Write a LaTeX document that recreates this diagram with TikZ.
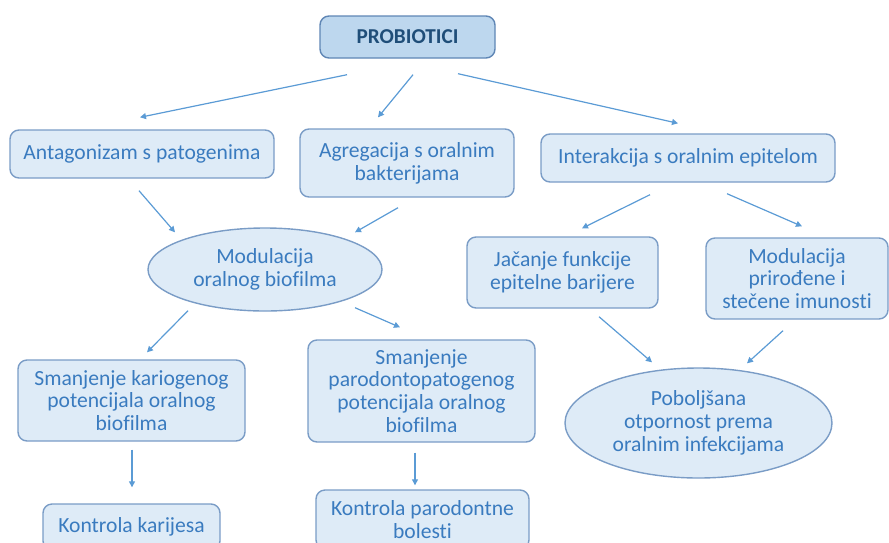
\documentclass[tikz,border=0pt]{standalone}
\usepackage{fontspec}
\setmainfont{Carlito}[Ligatures=NoCommon]
\usetikzlibrary{arrows.meta,shapes.geometric,calc}
\definecolor{boxfill}{HTML}{DEEBF7}
\definecolor{boxline}{HTML}{7A9CC6}
\definecolor{topfill}{HTML}{BDD7EE}
\definecolor{topline}{HTML}{5F86B5}
\definecolor{txtblue}{HTML}{3A7BBF}
\definecolor{txtnavy}{HTML}{1F4E79}
\definecolor{arrblue}{HTML}{5B9BD5}

\begin{document}
\begin{tikzpicture}[x=0.5pt,y=-0.5pt,
    txt/.style={text=txtblue,align=center,font=\fontsize{10.8}{11.4}\selectfont,inner sep=0pt},
    box/.style={txt,draw=boxline,fill=boxfill,line width=0.7pt,rounded corners=4.5pt},
    topbox/.style={box,draw=topline,fill=topfill,text=txtnavy,font=\fontsize{10.6}{11.4}\selectfont\bfseries},
    oval/.style={txt,ellipse,draw=boxline,fill=boxfill,line width=0.7pt},
    arr/.style={-{Triangle[length=3pt,width=3pt]},draw=arrblue,line width=0.6pt}]
        \useasboundingbox(0,0)rectangle(889,542);
        \node[topbox,minimum width=87.5pt,minimum height=21pt](prob)at(407.5,37){PROBIOTICI};
        \node[box,minimum width=132pt,minimum height=24pt](ant)at(142,154){Antagonizam s patogenima};
        \node[box,minimum width=107pt,minimum height=34pt](agr)at(407,163){Agregacija s oralnim\\bakterijama};
        \node[box,minimum width=147pt,minimum height=24pt](inter)at(688,158){Interakcija s oralnim epitelom};
        \node[box,minimum width=95.5pt,minimum height=35.5pt](jac)at(562.5,272.5){Jačanje funkcije\\epitelne barijere};
        \node[box,minimum width=91pt,minimum height=40.5pt](modim)at(797,278.5){Modulacija\\prirođene i\\stečene imunosti};
        \node[oval,minimum width=117pt,minimum height=41.5pt](modbio)at(265,269.5){Modulacija\\oralnog biofilma};
        \node[box,minimum width=113.5pt,minimum height=40.5pt](smkar)at(131.5,400.5){Smanjenje kariogenog\\potencijala oralnog\\biofilma};
        \node[box,minimum width=113.5pt,minimum height=51pt](smpar)at(421.5,391){Smanjenje\\parodontopatogenog\\potencijala oralnog\\biofilma};
        \node[box,minimum width=88.5pt,minimum height=23pt](konkar)at(131.5,527){Kontrola karijesa};
        \node[box,minimum width=106.5pt,minimum height=29.5pt](konpar)at(422.5,519.5){Kontrola parodontne\\bolesti};
        \node[oval,minimum width=133.5pt,minimum height=55pt](pob)at(698.5,423){Poboljšana\\otpornost prema\\oralnim infekcijama};
        \draw[arr]($(prob.south)+(-60.5,16)$)--($(ant.north)+(-2,-12)$);
        \draw[arr]($(prob.south)+(5.5,16)$)--($(agr.north)+(-29,-11)$);
        \draw[arr]($(prob.south)+(50.5,15)$)--($(inter.north)+(-10,-10)$);
        \draw[arr]($(ant.south)+(-3,12)$)--($(modbio.north)+(-90,5)$);
        \draw[arr]($(agr.south)+(-9,10)$)--($(modbio.north)+(90,5)$);
        \draw[arr]($(inter.south)+(-38,12)$)--($(jac.north)+(19.5,-8)$);
        \draw[arr]($(inter.south)+(39,11)$)--($(modim.north)+(5,-11)$);
        \draw[arr]($(modbio.south)+(-77,-1)$)--($(smkar.north)+(15.5,-7)$);
        \draw[arr]($(modbio.south)+(90,-4)$)--($(smpar.north)+(-21.5,-12)$);
        \draw[arr]($(smkar.south)+(0.5,8)$)--($(konkar.north)+(0.5,-16)$);
        \draw[arr]($(smpar.south)+(-6.5,10)$)--($(konpar.north)+(-7.5,-4)$);
        \draw[arr]($(jac.south)+(36.5,8)$)--($(pob.north)+(-46.5,-5)$);
        \draw[arr]($(modim.south)+(-14,11)$)--($(pob.north)+(48.5,-4)$);
    \end{tikzpicture}
\end{document}
